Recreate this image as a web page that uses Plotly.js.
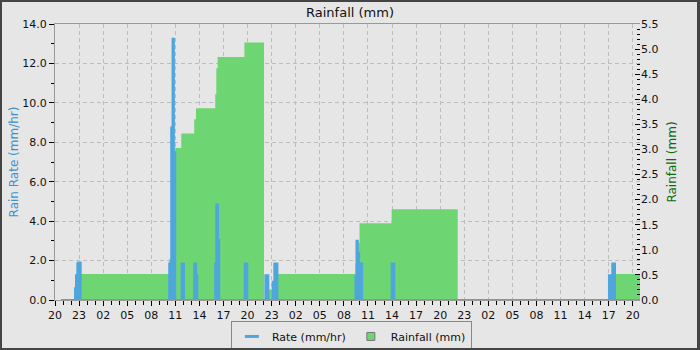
<!DOCTYPE html>
<html>
<head>
<meta charset="utf-8">
<script src="https://cdn.plot.ly/plotly-3.0.1.min.js"></script>
<style>
  html, body { margin: 0; padding: 0; background: #e6e6e6; }
  #wrap { position: relative; width: 700px; height: 350px; }
  #chart { width: 700px; height: 350px; }
  #frame { position: absolute; left: 0; top: 0; width: 700px; height: 350px; box-sizing: border-box;
           border-style: solid; border-color: #444; border-width: 2px 3px 2px 2px; pointer-events: none; }
</style>
</head>
<body>
<div id="wrap"><div id="chart"></div><div id="frame"></div></div>
<script>
// Rain rate (mm/hr) - step series
const rateTimes = [
  '2024-03-01 20:45','2024-03-01 22:30','2024-03-01 22:37','2024-03-01 22:47','2024-03-01 22:52','2024-03-01 23:12',
  '2024-03-02 10:14','2024-03-02 10:29','2024-03-02 10:39','2024-03-02 10:49','2024-03-02 10:59',
  '2024-03-02 11:46','2024-03-02 12:04',
  '2024-03-02 13:21','2024-03-02 13:36','2024-03-02 13:44',
  '2024-03-02 15:58','2024-03-02 16:06','2024-03-02 16:19','2024-03-02 16:28',
  '2024-03-02 19:38','2024-03-02 19:58',
  '2024-03-02 22:13','2024-03-02 22:35','2024-03-02 23:08','2024-03-02 23:20','2024-03-02 23:43',
  '2024-03-03 09:27','2024-03-03 09:34','2024-03-03 09:44','2024-03-03 09:54','2024-03-03 10:04','2024-03-03 10:17',
  '2024-03-03 13:57','2024-03-03 14:17',
  '2024-03-04 17:02','2024-03-04 17:27','2024-03-04 17:47','2024-03-04 20:54'
];
const rateValues = [
  0, 0.6, 1.25, 1.85, 1.9, 0,
  1.85, 8.75, 13.25, 7.5, 0,
  1.85, 0,
  1.85, 1.25, 0,
  1.85, 4.85, 3.05, 0,
  1.85, 0,
  1.25, 0, 0.93, 1.85, 0,
  1.2, 3.0, 2.4, 0, 1.85, 0,
  1.85, 0,
  1.25, 1.85, 0, 0
];
// Rainfall (mm) - step area series
const rainTimes = [
  '2024-03-01 20:45','2024-03-01 23:12',
  '2024-03-02 10:14','2024-03-02 10:59','2024-03-02 11:44','2024-03-02 13:21','2024-03-02 13:34',
  '2024-03-02 15:58','2024-03-02 16:06','2024-03-02 16:16','2024-03-02 19:36','2024-03-02 22:03',
  '2024-03-02 22:33','2024-03-02 23:40',
  '2024-03-03 09:27','2024-03-03 09:47','2024-03-03 09:57','2024-03-03 13:57','2024-03-03 22:11',
  '2024-03-04 17:47','2024-03-04 20:54'
];
const rainValues = [
  0, 0.52,
  0.81, 3.03, 3.32, 3.6, 3.82,
  4.1, 4.62, 4.84, 5.13, 0,
  0.21, 0.52,
  0.7, 1.14, 1.53, 1.81, 0,
  0.52, 0.52
];
const xRange = ['2024-03-01 20:00', '2024-03-04 20:54'];
const rateName = 'Rate (mm/hr)';
const rainName = 'Rainfall (mm)';

const blue = '#4ea6dc';
const green = '#6dd672';
const gridCol = '#bdbdbd';

const traces = [
  { x: rainTimes, y: rainValues, type: 'scatter', mode: 'lines', xaxis: 'x', yaxis: 'y',
    line: { width: 0, shape: 'hv', color: green }, fill: 'tozeroy', fillcolor: green,
    showlegend: false, hoverinfo: 'skip' },
  { x: rateTimes, y: rateValues, type: 'scatter', mode: 'lines', xaxis: 'x', yaxis: 'y2',
    line: { width: 2, shape: 'hv', color: blue }, fill: 'tozeroy', fillcolor: blue, showlegend: false },
  { x: [null], y: [null], type: 'scatter', mode: 'markers', name: rateName, xaxis: 'x', yaxis: 'y2',
    marker: { symbol: 'line-ew', size: 10, color: blue, line: { color: blue, width: 3 } }, legendrank: 1 },
  { x: [null], y: [null], type: 'scatter', mode: 'markers', name: rainName, xaxis: 'x', yaxis: 'y',
    marker: { symbol: 'square', size: 8, color: green, line: { color: '#777', width: 1 } }, legendrank: 2 }
];

const layout = {
  width: 700, height: 350,
  paper_bgcolor: '#e6e6e6', plot_bgcolor: '#e6e6e6',
  margin: { l: 55, r: 60, t: 24, b: 50, pad: 0 },
  font: { family: 'DejaVu Sans', size: 11, color: '#111' },
  title: { text: 'Rainfall (mm)', font: { size: 13, color: '#111' }, x: 0.5, xref: 'container', xanchor: 'center',
           y: 1 - 12 / 350, yref: 'container', yanchor: 'middle' },
  showlegend: true,
  legend: { orientation: 'h', xref: 'container', x: 0.502, xanchor: 'center', yref: 'container', y: 0.083, yanchor: 'top',
            bgcolor: '#e6e6e6', bordercolor: '#888', borderwidth: 1, font: { size: 11 } },
  xaxis: {
    type: 'date', range: xRange, tick0: '2024-03-01 20:00', dtick: 10800000, tickformat: '%H',
    ticks: 'outside', ticklen: 5, tickcolor: '#000', tickwidth: 1,
    showline: true, linecolor: '#999', linewidth: 1, mirror: true,
    showgrid: true, gridcolor: gridCol, griddash: '4px,3px', gridwidth: 1, zeroline: false,
    minor: { dtick: 3600000, ticks: 'outside', ticklen: 4, tickcolor: '#000', showgrid: false }
  },
  yaxis: {
    side: 'right', range: [0, 5.5], dtick: 0.5, tick0: 0, tickformat: '.1f',
    ticks: 'inside', ticklen: 5, tickcolor: '#000', showline: false, showgrid: false, zeroline: false,
    minor: { dtick: 0.1, ticks: 'inside', ticklen: 3, tickcolor: '#000', showgrid: false },
    title: { text: 'Rainfall (mm)', font: { size: 12, color: '#0b6b0b' }, standoff: 10 }
  },
  yaxis2: {
    overlaying: 'y', side: 'left', range: [0, 14], dtick: 2, tick0: 0, tickformat: '.1f',
    ticks: 'outside', ticklen: 5, tickcolor: '#000', showline: true, linecolor: '#999', linewidth: 1,
    showgrid: true, gridcolor: gridCol, griddash: '4px,3px', gridwidth: 1, zeroline: false,
    minor: { dtick: 1, ticks: 'outside', ticklen: 3, tickcolor: '#000', showgrid: false },
    title: { text: 'Rain Rate (mm/hr)', font: { size: 12, color: '#3a93cf' }, standoff: 1 }
  }
};

Plotly.newPlot('chart', traces, layout, { displayModeBar: false, staticPlot: true });
</script>
</body>
</html>
